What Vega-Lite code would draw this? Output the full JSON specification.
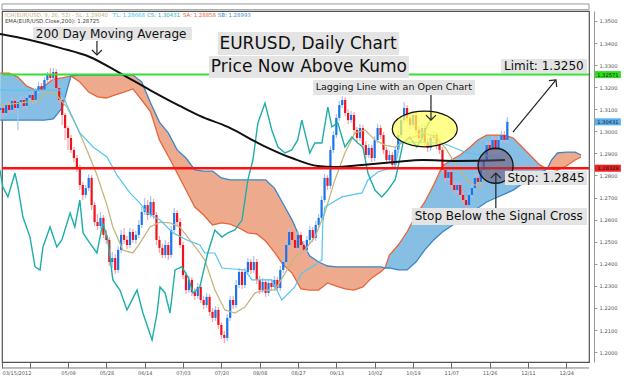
{
"$schema":"https://vega.github.io/schema/vega-lite/v6.json",
"width":587,"height":351,
"autosize":{"type":"none"},
"padding":{"left":2,"top":11,"right":35,"bottom":24},
"background":"#ffffff",
"config":{"font":"DejaVu Sans","view":{"stroke":"#555555","strokeWidth":1.2},
 "axis":{"labelOverlap":false,"labelBound":false,"grid":false,"labelSeparation":0},
 "axisX":{"labelFlush":true,"labelFontSize":5,"labelColor":"#555555","tickSize":6,"tickColor":"#666666","labelPadding":2,"domain":false},
 "axisY":{"labelFontSize":5.2,"labelColor":"#555555","tickSize":3,"tickColor":"#999999","domainColor":"#999999","labelPadding":2}},
"datasets":{
"cd":[
{"d":3,"o":1.3097,"h":1.3124,"l":1.3079,"c":1.3106},
{"d":4,"o":1.3106,"h":1.3119,"l":1.3061,"c":1.3083},
{"d":5,"o":1.3083,"h":1.3133,"l":1.3070,"c":1.3119},
{"d":6,"o":1.3119,"h":1.3138,"l":1.3083,"c":1.3097},
{"d":7,"o":1.3097,"h":1.3156,"l":1.3083,"c":1.3138},
{"d":8,"o":1.3138,"h":1.3151,"l":1.3088,"c":1.3106},
{"d":9,"o":1.3106,"h":1.3147,"l":1.3006,"c":1.3133},
{"d":10,"o":1.3133,"h":1.3160,"l":1.3119,"c":1.3142},
{"d":11,"o":1.3142,"h":1.3156,"l":1.3101,"c":1.3115},
{"d":12,"o":1.3115,"h":1.3165,"l":1.3101,"c":1.3151},
{"d":13,"o":1.3151,"h":1.3178,"l":1.3138,"c":1.3165},
{"d":14,"o":1.3165,"h":1.3178,"l":1.3124,"c":1.3142},
{"d":15,"o":1.3142,"h":1.3196,"l":1.3128,"c":1.3183},
{"d":16,"o":1.3183,"h":1.3224,"l":1.3169,"c":1.3205},
{"d":17,"o":1.3205,"h":1.3219,"l":1.3174,"c":1.3187},
{"d":18,"o":1.3187,"h":1.3246,"l":1.3178,"c":1.3233},
{"d":19,"o":1.3233,"h":1.3269,"l":1.3219,"c":1.3255},
{"d":20,"o":1.3255,"h":1.3287,"l":1.3228,"c":1.3242},
{"d":21,"o":1.3242,"h":1.3287,"l":1.3233,"c":1.3269},
{"d":22,"o":1.3269,"h":1.3282,"l":1.3183,"c":1.3196},
{"d":23,"o":1.3196,"h":1.3205,"l":1.3128,"c":1.3142},
{"d":24,"o":1.3142,"h":1.3151,"l":1.3029,"c":1.3074},
{"d":25,"o":1.3074,"h":1.3083,"l":1.2961,"c":1.3015},
{"d":26,"o":1.3015,"h":1.3024,"l":1.2916,"c":1.2970},
{"d":27,"o":1.2970,"h":1.2983,"l":1.2902,"c":1.2916},
{"d":28,"o":1.2916,"h":1.2929,"l":1.2861,"c":1.2879},
{"d":29,"o":1.2879,"h":1.2893,"l":1.2816,"c":1.2834},
{"d":30,"o":1.2834,"h":1.2848,"l":1.2734,"c":1.2757},
{"d":31,"o":1.2757,"h":1.2771,"l":1.2689,"c":1.2712},
{"d":32,"o":1.2712,"h":1.2757,"l":1.2698,"c":1.2743},
{"d":33,"o":1.2743,"h":1.2807,"l":1.2730,"c":1.2789},
{"d":34,"o":1.2789,"h":1.2802,"l":1.2644,"c":1.2666},
{"d":35,"o":1.2666,"h":1.2680,"l":1.2571,"c":1.2589},
{"d":36,"o":1.2589,"h":1.2626,"l":1.2553,"c":1.2571},
{"d":37,"o":1.2571,"h":1.2635,"l":1.2558,"c":1.2608},
{"d":38,"o":1.2608,"h":1.2621,"l":1.2517,"c":1.2531},
{"d":39,"o":1.2531,"h":1.2553,"l":1.2490,"c":1.2508},
{"d":40,"o":1.2508,"h":1.2521,"l":1.2390,"c":1.2408},
{"d":41,"o":1.2408,"h":1.2453,"l":1.2381,"c":1.2426},
{"d":42,"o":1.2426,"h":1.2444,"l":1.2354,"c":1.2372},
{"d":43,"o":1.2372,"h":1.2481,"l":1.2358,"c":1.2463},
{"d":44,"o":1.2463,"h":1.2553,"l":1.2449,"c":1.2531},
{"d":45,"o":1.2531,"h":1.2562,"l":1.2490,"c":1.2508},
{"d":46,"o":1.2508,"h":1.2526,"l":1.2467,"c":1.2485},
{"d":47,"o":1.2485,"h":1.2562,"l":1.2472,"c":1.2544},
{"d":48,"o":1.2544,"h":1.2558,"l":1.2494,"c":1.2508},
{"d":49,"o":1.2508,"h":1.2549,"l":1.2490,"c":1.2531},
{"d":50,"o":1.2531,"h":1.2598,"l":1.2517,"c":1.2576},
{"d":51,"o":1.2576,"h":1.2657,"l":1.2562,"c":1.2635},
{"d":52,"o":1.2635,"h":1.2698,"l":1.2621,"c":1.2666},
{"d":53,"o":1.2666,"h":1.2689,"l":1.2598,"c":1.2621},
{"d":54,"o":1.2621,"h":1.2707,"l":1.2608,"c":1.2680},
{"d":55,"o":1.2680,"h":1.2694,"l":1.2603,"c":1.2621},
{"d":56,"o":1.2621,"h":1.2635,"l":1.2485,"c":1.2508},
{"d":57,"o":1.2508,"h":1.2526,"l":1.2449,"c":1.2472},
{"d":58,"o":1.2472,"h":1.2490,"l":1.2426,"c":1.2440},
{"d":59,"o":1.2440,"h":1.2508,"l":1.2426,"c":1.2485},
{"d":60,"o":1.2485,"h":1.2499,"l":1.2417,"c":1.2440},
{"d":61,"o":1.2440,"h":1.2571,"l":1.2426,"c":1.2553},
{"d":62,"o":1.2553,"h":1.2653,"l":1.2540,"c":1.2630},
{"d":63,"o":1.2630,"h":1.2644,"l":1.2571,"c":1.2589},
{"d":64,"o":1.2589,"h":1.2608,"l":1.2472,"c":1.2485},
{"d":65,"o":1.2485,"h":1.2499,"l":1.2331,"c":1.2349},
{"d":66,"o":1.2349,"h":1.2363,"l":1.2263,"c":1.2281},
{"d":67,"o":1.2281,"h":1.2345,"l":1.2268,"c":1.2327},
{"d":68,"o":1.2327,"h":1.2340,"l":1.2254,"c":1.2272},
{"d":69,"o":1.2272,"h":1.2290,"l":1.2236,"c":1.2254},
{"d":70,"o":1.2254,"h":1.2313,"l":1.2241,"c":1.2295},
{"d":71,"o":1.2295,"h":1.2309,"l":1.2222,"c":1.2236},
{"d":72,"o":1.2236,"h":1.2254,"l":1.2195,"c":1.2213},
{"d":73,"o":1.2213,"h":1.2268,"l":1.2200,"c":1.2250},
{"d":74,"o":1.2250,"h":1.2263,"l":1.2164,"c":1.2182},
{"d":75,"o":1.2182,"h":1.2200,"l":1.2136,"c":1.2155},
{"d":76,"o":1.2155,"h":1.2209,"l":1.2141,"c":1.2191},
{"d":77,"o":1.2191,"h":1.2204,"l":1.2105,"c":1.2123},
{"d":78,"o":1.2123,"h":1.2136,"l":1.2059,"c":1.2078},
{"d":79,"o":1.2078,"h":1.2096,"l":1.2041,"c":1.2064},
{"d":80,"o":1.2064,"h":1.2173,"l":1.2050,"c":1.2155},
{"d":81,"o":1.2155,"h":1.2254,"l":1.2141,"c":1.2236},
{"d":82,"o":1.2236,"h":1.2254,"l":1.2195,"c":1.2213},
{"d":83,"o":1.2213,"h":1.2327,"l":1.2200,"c":1.2304},
{"d":84,"o":1.2304,"h":1.2381,"l":1.2290,"c":1.2363},
{"d":85,"o":1.2363,"h":1.2376,"l":1.2286,"c":1.2304},
{"d":86,"o":1.2304,"h":1.2381,"l":1.2290,"c":1.2363},
{"d":87,"o":1.2363,"h":1.2426,"l":1.2349,"c":1.2408},
{"d":88,"o":1.2408,"h":1.2422,"l":1.2354,"c":1.2372},
{"d":89,"o":1.2372,"h":1.2435,"l":1.2358,"c":1.2408},
{"d":90,"o":1.2408,"h":1.2422,"l":1.2309,"c":1.2327},
{"d":91,"o":1.2327,"h":1.2345,"l":1.2263,"c":1.2281},
{"d":92,"o":1.2281,"h":1.2336,"l":1.2268,"c":1.2318},
{"d":93,"o":1.2318,"h":1.2331,"l":1.2250,"c":1.2268},
{"d":94,"o":1.2268,"h":1.2331,"l":1.2254,"c":1.2313},
{"d":95,"o":1.2313,"h":1.2331,"l":1.2277,"c":1.2295},
{"d":96,"o":1.2295,"h":1.2345,"l":1.2281,"c":1.2327},
{"d":97,"o":1.2327,"h":1.2340,"l":1.2277,"c":1.2290},
{"d":98,"o":1.2290,"h":1.2390,"l":1.2277,"c":1.2372},
{"d":99,"o":1.2372,"h":1.2426,"l":1.2358,"c":1.2408},
{"d":100,"o":1.2408,"h":1.2508,"l":1.2395,"c":1.2485},
{"d":101,"o":1.2485,"h":1.2562,"l":1.2472,"c":1.2544},
{"d":102,"o":1.2544,"h":1.2558,"l":1.2490,"c":1.2508},
{"d":103,"o":1.2508,"h":1.2526,"l":1.2453,"c":1.2472},
{"d":104,"o":1.2472,"h":1.2549,"l":1.2458,"c":1.2531},
{"d":105,"o":1.2531,"h":1.2544,"l":1.2467,"c":1.2485},
{"d":106,"o":1.2485,"h":1.2503,"l":1.2444,"c":1.2463},
{"d":107,"o":1.2463,"h":1.2526,"l":1.2449,"c":1.2508},
{"d":108,"o":1.2508,"h":1.2571,"l":1.2494,"c":1.2553},
{"d":109,"o":1.2553,"h":1.2567,"l":1.2499,"c":1.2517},
{"d":110,"o":1.2517,"h":1.2594,"l":1.2503,"c":1.2576},
{"d":111,"o":1.2576,"h":1.2626,"l":1.2562,"c":1.2608},
{"d":112,"o":1.2608,"h":1.2707,"l":1.2594,"c":1.2689},
{"d":113,"o":1.2689,"h":1.2807,"l":1.2676,"c":1.2789},
{"d":114,"o":1.2789,"h":1.2802,"l":1.2734,"c":1.2753},
{"d":115,"o":1.2753,"h":1.2934,"l":1.2739,"c":1.2916},
{"d":116,"o":1.2916,"h":1.3002,"l":1.2902,"c":1.2983},
{"d":117,"o":1.2983,"h":1.3079,"l":1.2970,"c":1.3061},
{"d":118,"o":1.3061,"h":1.3138,"l":1.3047,"c":1.3119},
{"d":119,"o":1.3119,"h":1.3160,"l":1.3106,"c":1.3142},
{"d":120,"o":1.3142,"h":1.3156,"l":1.3070,"c":1.3083},
{"d":121,"o":1.3083,"h":1.3101,"l":1.3033,"c":1.3051},
{"d":122,"o":1.3051,"h":1.3092,"l":1.3038,"c":1.3074},
{"d":123,"o":1.3074,"h":1.3088,"l":1.2988,"c":1.3006},
{"d":124,"o":1.3006,"h":1.3020,"l":1.2952,"c":1.2970},
{"d":125,"o":1.2970,"h":1.3033,"l":1.2956,"c":1.3015},
{"d":126,"o":1.3015,"h":1.3029,"l":1.2920,"c":1.2938},
{"d":127,"o":1.2938,"h":1.2956,"l":1.2875,"c":1.2893},
{"d":128,"o":1.2893,"h":1.2943,"l":1.2879,"c":1.2925},
{"d":129,"o":1.2925,"h":1.2938,"l":1.2861,"c":1.2879},
{"d":130,"o":1.2879,"h":1.2979,"l":1.2866,"c":1.2961},
{"d":131,"o":1.2961,"h":1.3033,"l":1.2947,"c":1.3015},
{"d":132,"o":1.3015,"h":1.3029,"l":1.2965,"c":1.2983},
{"d":133,"o":1.2983,"h":1.2997,"l":1.2897,"c":1.2916},
{"d":134,"o":1.2916,"h":1.2929,"l":1.2852,"c":1.2870},
{"d":135,"o":1.2870,"h":1.2911,"l":1.2857,"c":1.2893},
{"d":136,"o":1.2893,"h":1.2906,"l":1.2830,"c":1.2848},
{"d":137,"o":1.2848,"h":1.2934,"l":1.2834,"c":1.2916},
{"d":138,"o":1.2916,"h":1.3002,"l":1.2902,"c":1.2983},
{"d":139,"o":1.2983,"h":1.3070,"l":1.2970,"c":1.3051},
{"d":140,"o":1.3051,"h":1.3133,"l":1.3038,"c":1.3106},
{"d":141,"o":1.3106,"h":1.3119,"l":1.3042,"c":1.3061},
{"d":142,"o":1.3061,"h":1.3079,"l":1.3011,"c":1.3029},
{"d":143,"o":1.3029,"h":1.3092,"l":1.3015,"c":1.3074},
{"d":144,"o":1.3074,"h":1.3088,"l":1.2988,"c":1.3006},
{"d":145,"o":1.3006,"h":1.3024,"l":1.2952,"c":1.2970},
{"d":146,"o":1.2970,"h":1.3033,"l":1.2956,"c":1.3015},
{"d":147,"o":1.3015,"h":1.3029,"l":1.2934,"c":1.2952},
{"d":148,"o":1.2952,"h":1.2970,"l":1.2906,"c":1.2925},
{"d":149,"o":1.2925,"h":1.2988,"l":1.2911,"c":1.2970},
{"d":150,"o":1.2970,"h":1.3002,"l":1.2956,"c":1.2983},
{"d":151,"o":1.2983,"h":1.2997,"l":1.2920,"c":1.2938},
{"d":152,"o":1.2938,"h":1.2956,"l":1.2897,"c":1.2916},
{"d":153,"o":1.2916,"h":1.2929,"l":1.2807,"c":1.2825},
{"d":154,"o":1.2825,"h":1.2843,"l":1.2771,"c":1.2789},
{"d":155,"o":1.2789,"h":1.2834,"l":1.2775,"c":1.2816},
{"d":156,"o":1.2816,"h":1.2830,"l":1.2739,"c":1.2757},
{"d":157,"o":1.2757,"h":1.2775,"l":1.2716,"c":1.2734},
{"d":158,"o":1.2734,"h":1.2775,"l":1.2721,"c":1.2757},
{"d":159,"o":1.2757,"h":1.2771,"l":1.2694,"c":1.2712},
{"d":160,"o":1.2712,"h":1.2730,"l":1.2671,"c":1.2689},
{"d":161,"o":1.2689,"h":1.2707,"l":1.2653,"c":1.2666},
{"d":162,"o":1.2666,"h":1.2730,"l":1.2653,"c":1.2712},
{"d":163,"o":1.2712,"h":1.2762,"l":1.2698,"c":1.2743},
{"d":164,"o":1.2743,"h":1.2807,"l":1.2730,"c":1.2789},
{"d":165,"o":1.2789,"h":1.2807,"l":1.2753,"c":1.2771},
{"d":166,"o":1.2771,"h":1.2843,"l":1.2757,"c":1.2825},
{"d":167,"o":1.2825,"h":1.2888,"l":1.2811,"c":1.2870},
{"d":168,"o":1.2870,"h":1.2956,"l":1.2857,"c":1.2938},
{"d":169,"o":1.2938,"h":1.2956,"l":1.2897,"c":1.2916},
{"d":170,"o":1.2916,"h":1.2979,"l":1.2902,"c":1.2961},
{"d":171,"o":1.2961,"h":1.2974,"l":1.2897,"c":1.2916},
{"d":172,"o":1.2916,"h":1.2979,"l":1.2902,"c":1.2961},
{"d":173,"o":1.2961,"h":1.3002,"l":1.2947,"c":1.2983},
{"d":174,"o":1.2983,"h":1.3002,"l":1.2947,"c":1.2961},
{"d":175,"o":1.2961,"h":1.3065,"l":1.2947,"c":1.3043}
],
"cl":[
{"d":3,"sa":1.3264,"sb":1.3051,"g":1,"k":"up"},
{"d":6,"sa":1.3264,"sb":1.3051,"g":1,"k":"up"},
{"d":9,"sa":1.3246,"sb":1.3051,"g":1,"k":"up"},
{"d":12,"sa":1.3205,"sb":1.3051,"g":1,"k":"up"},
{"d":15,"sa":1.3187,"sb":1.3051,"g":1,"k":"up"},
{"d":18,"sa":1.3205,"sb":1.3051,"g":1,"k":"up"},
{"d":21,"sa":1.3237,"sb":1.3056,"g":1,"k":"up"},
{"d":24,"sa":1.3242,"sb":1.3106,"g":1,"k":"up"},
{"d":27,"sa":1.3251,"sb":1.3251,"g":1,"k":"up"},
{"d":27,"sa":1.3251,"sb":1.3251,"g":2,"k":"down"},
{"d":30,"sa":1.3224,"sb":1.3255,"g":2,"k":"down"},
{"d":33,"sa":1.3178,"sb":1.3255,"g":2,"k":"down"},
{"d":36,"sa":1.3156,"sb":1.3255,"g":2,"k":"down"},
{"d":39,"sa":1.3151,"sb":1.3255,"g":2,"k":"down"},
{"d":42,"sa":1.3165,"sb":1.3255,"g":2,"k":"down"},
{"d":45,"sa":1.3178,"sb":1.3255,"g":2,"k":"down"},
{"d":48,"sa":1.3192,"sb":1.3255,"g":2,"k":"down"},
{"d":51,"sa":1.3142,"sb":1.3224,"g":2,"k":"down"},
{"d":54,"sa":1.3088,"sb":1.3128,"g":2,"k":"down"},
{"d":57,"sa":1.2961,"sb":1.3042,"g":2,"k":"down"},
{"d":60,"sa":1.2888,"sb":1.2993,"g":2,"k":"down"},
{"d":63,"sa":1.2811,"sb":1.2916,"g":2,"k":"down"},
{"d":66,"sa":1.2734,"sb":1.2879,"g":2,"k":"down"},
{"d":69,"sa":1.2657,"sb":1.2825,"g":2,"k":"down"},
{"d":72,"sa":1.2621,"sb":1.2820,"g":2,"k":"down"},
{"d":75,"sa":1.2576,"sb":1.2820,"g":2,"k":"down"},
{"d":78,"sa":1.2585,"sb":1.2789,"g":2,"k":"down"},
{"d":81,"sa":1.2580,"sb":1.2780,"g":2,"k":"down"},
{"d":84,"sa":1.2562,"sb":1.2780,"g":2,"k":"down"},
{"d":87,"sa":1.2540,"sb":1.2780,"g":2,"k":"down"},
{"d":90,"sa":1.2535,"sb":1.2780,"g":2,"k":"down"},
{"d":93,"sa":1.2503,"sb":1.2780,"g":2,"k":"down"},
{"d":96,"sa":1.2453,"sb":1.2743,"g":2,"k":"down"},
{"d":99,"sa":1.2395,"sb":1.2671,"g":2,"k":"down"},
{"d":102,"sa":1.2358,"sb":1.2598,"g":2,"k":"down"},
{"d":105,"sa":1.2286,"sb":1.2508,"g":2,"k":"down"},
{"d":108,"sa":1.2281,"sb":1.2435,"g":2,"k":"down"},
{"d":111,"sa":1.2281,"sb":1.2408,"g":2,"k":"down"},
{"d":114,"sa":1.2313,"sb":1.2390,"g":2,"k":"down"},
{"d":117,"sa":1.2299,"sb":1.2386,"g":2,"k":"down"},
{"d":120,"sa":1.2286,"sb":1.2386,"g":2,"k":"down"},
{"d":123,"sa":1.2281,"sb":1.2386,"g":2,"k":"down"},
{"d":126,"sa":1.2295,"sb":1.2386,"g":2,"k":"down"},
{"d":129,"sa":1.2336,"sb":1.2386,"g":2,"k":"down"},
{"d":132,"sa":1.2363,"sb":1.2386,"g":2,"k":"down"},
{"d":133.5,"sa":1.2381,"sb":1.2381,"g":2,"k":"down"},
{"d":133.5,"sa":1.2381,"sb":1.2381,"g":3,"k":"up"},
{"d":135,"sa":1.2440,"sb":1.2381,"g":3,"k":"up"},
{"d":138,"sa":1.2485,"sb":1.2372,"g":3,"k":"up"},
{"d":141,"sa":1.2544,"sb":1.2372,"g":3,"k":"up"},
{"d":144,"sa":1.2621,"sb":1.2408,"g":3,"k":"up"},
{"d":147,"sa":1.2680,"sb":1.2463,"g":3,"k":"up"},
{"d":150,"sa":1.2757,"sb":1.2508,"g":3,"k":"up"},
{"d":153,"sa":1.2843,"sb":1.2544,"g":3,"k":"up"},
{"d":156,"sa":1.2870,"sb":1.2571,"g":3,"k":"up"},
{"d":159,"sa":1.2893,"sb":1.2598,"g":3,"k":"up"},
{"d":162,"sa":1.2925,"sb":1.2626,"g":3,"k":"up"},
{"d":165,"sa":1.2961,"sb":1.2653,"g":3,"k":"up"},
{"d":168,"sa":1.2983,"sb":1.2680,"g":3,"k":"up"},
{"d":171,"sa":1.2983,"sb":1.2698,"g":3,"k":"up"},
{"d":174,"sa":1.2983,"sb":1.2716,"g":3,"k":"up"},
{"d":177,"sa":1.2970,"sb":1.2734,"g":3,"k":"up"},
{"d":180,"sa":1.2929,"sb":1.2762,"g":3,"k":"up"},
{"d":183,"sa":1.2888,"sb":1.2789,"g":3,"k":"up"},
{"d":186,"sa":1.2848,"sb":1.2811,"g":3,"k":"up"},
{"d":188.5,"sa":1.2829,"sb":1.2829,"g":3,"k":"up"},
{"d":188.5,"sa":1.2829,"sb":1.2829,"g":4,"k":"down"},
{"d":190,"sa":1.2829,"sb":1.2870,"g":4,"k":"down"},
{"d":192,"sa":1.2825,"sb":1.2902,"g":4,"k":"down"},
{"d":195,"sa":1.2843,"sb":1.2906,"g":4,"k":"down"},
{"d":198,"sa":1.2870,"sb":1.2906,"g":4,"k":"down"},
{"d":200,"sa":1.2884,"sb":1.2893,"g":4,"k":"down"}
],
"ma":[{"d":2.9,"v":1.3441},{"d":13.1,"v":1.3414},{"d":23.3,"v":1.3378},{"d":33.4,"v":1.3337},{"d":43.6,"v":1.3264},{"d":53.8,"v":1.3187},{"d":63.9,"v":1.3115},{"d":70.7,"v":1.3070},{"d":80.2,"v":1.3020},{"d":91.8,"v":1.2938},{"d":101.9,"v":1.2879},{"d":110.7,"v":1.2843},{"d":116.5,"v":1.2839},{"d":125.7,"v":1.2848},{"d":136.9,"v":1.2861},{"d":146.3,"v":1.2870},{"d":157.9,"v":1.2866},{"d":174.2,"v":1.2870}],
"tk":[{"d":2.9,"v":1.3119},{"d":9.7,"v":1.3128},{"d":16.5,"v":1.3142},{"d":18.2,"v":1.3174},{"d":21.6,"v":1.3178},{"d":22.6,"v":1.3156},{"d":25.6,"v":1.3110},{"d":29.0,"v":1.3020},{"d":32.4,"v":1.2915},{"d":35.8,"v":1.2802},{"d":39.2,"v":1.2666},{"d":41.2,"v":1.2567},{"d":44.6,"v":1.2462},{"d":48.0,"v":1.2449},{"d":50.4,"v":1.2494},{"d":53.8,"v":1.2567},{"d":57.2,"v":1.2589},{"d":60.6,"v":1.2585},{"d":63.9,"v":1.2567},{"d":67.3,"v":1.2508},{"d":70.7,"v":1.2449},{"d":72.4,"v":1.2417},{"d":75.8,"v":1.2281},{"d":79.2,"v":1.2191},{"d":82.6,"v":1.2177},{"d":86.0,"v":1.2204},{"d":89.4,"v":1.2268},{"d":92.8,"v":1.2281},{"d":96.2,"v":1.2281},{"d":99.6,"v":1.2358},{"d":102.9,"v":1.2431},{"d":106.3,"v":1.2462},{"d":109.7,"v":1.2521},{"d":113.1,"v":1.2630},{"d":116.5,"v":1.2780},{"d":119.9,"v":1.2902},{"d":123.3,"v":1.2993},{"d":126.7,"v":1.3006},{"d":130.1,"v":1.2961},{"d":133.5,"v":1.2938},{"d":136.9,"v":1.2929},{"d":140.9,"v":1.2961},{"d":146.3,"v":1.2993},{"d":151.1,"v":1.2974},{"d":154.5,"v":1.2915},{"d":157.9,"v":1.2839},{"d":162.3,"v":1.2766},{"d":165.7,"v":1.2748},{"d":169.1,"v":1.2811},{"d":172.5,"v":1.2857},{"d":174.8,"v":1.2884}],
"kj":[{"d":2.9,"v":1.3187},{"d":23.3,"v":1.3187},{"d":24.3,"v":1.3165},{"d":25.6,"v":1.3119},{"d":30.0,"v":1.2993},{"d":34.5,"v":1.2929},{"d":39.2,"v":1.2884},{"d":42.6,"v":1.2802},{"d":47.0,"v":1.2721},{"d":50.4,"v":1.2675},{"d":52.8,"v":1.2630},{"d":57.2,"v":1.2598},{"d":61.6,"v":1.2540},{"d":66.3,"v":1.2508},{"d":70.7,"v":1.2485},{"d":72.4,"v":1.2449},{"d":75.8,"v":1.2449},{"d":78.2,"v":1.2381},{"d":86.0,"v":1.2372},{"d":88.4,"v":1.2327},{"d":95.1,"v":1.2327},{"d":98.5,"v":1.2236},{"d":102.9,"v":1.2295},{"d":105.3,"v":1.2358},{"d":108.7,"v":1.2386},{"d":112.1,"v":1.2417},{"d":112.4,"v":1.2585},{"d":113.1,"v":1.2657},{"d":118.9,"v":1.2703},{"d":125.7,"v":1.2721},{"d":127.7,"v":1.2780},{"d":131.1,"v":1.2816},{"d":136.9,"v":1.2839},{"d":138.6,"v":1.2952},{"d":153.1,"v":1.2947},{"d":161.3,"v":1.2902},{"d":171.4,"v":1.2884},{"d":174.8,"v":1.2861}],
"ck":[{"d":2.9,"v":1.2825},{"d":3.9,"v":1.2748},{"d":5.6,"v":1.2703},{"d":8.0,"v":1.2811},{"d":9.0,"v":1.2748},{"d":10.7,"v":1.2612},{"d":13.1,"v":1.2521},{"d":14.8,"v":1.2386},{"d":16.5,"v":1.2372},{"d":17.5,"v":1.2476},{"d":19.9,"v":1.2567},{"d":22.2,"v":1.2476},{"d":23.9,"v":1.2508},{"d":26.7,"v":1.2630},{"d":28.3,"v":1.2567},{"d":30.0,"v":1.2689},{"d":31.1,"v":1.2540},{"d":33.4,"v":1.2494},{"d":35.8,"v":1.2449},{"d":37.8,"v":1.2585},{"d":39.5,"v":1.2508},{"d":41.2,"v":1.2327},{"d":43.6,"v":1.2281},{"d":46.0,"v":1.2191},{"d":49.4,"v":1.2281},{"d":51.4,"v":1.2177},{"d":54.5,"v":1.2055},{"d":56.2,"v":1.2177},{"d":57.2,"v":1.2295},{"d":58.9,"v":1.2268},{"d":60.6,"v":1.2177},{"d":62.3,"v":1.2372},{"d":64.6,"v":1.2386},{"d":66.7,"v":1.2340},{"d":68.4,"v":1.2268},{"d":70.7,"v":1.2295},{"d":73.4,"v":1.2449},{"d":75.8,"v":1.2553},{"d":78.2,"v":1.2521},{"d":80.2,"v":1.2540},{"d":82.6,"v":1.2553},{"d":85.0,"v":1.2598},{"d":87.0,"v":1.2780},{"d":88.7,"v":1.2870},{"d":90.4,"v":1.3038},{"d":92.8,"v":1.3128},{"d":95.1,"v":1.3006},{"d":97.2,"v":1.2929},{"d":99.6,"v":1.2902},{"d":101.9,"v":1.2916},{"d":103.9,"v":1.2961},{"d":105.3,"v":1.3051},{"d":108.0,"v":1.2902},{"d":109.7,"v":1.2947},{"d":112.1,"v":1.2947},{"d":114.1,"v":1.3110},{"d":115.5,"v":1.3020},{"d":117.5,"v":1.3038},{"d":119.9,"v":1.2929},{"d":122.3,"v":1.2974},{"d":124.3,"v":1.2947},{"d":126.0,"v":1.2929},{"d":127.7,"v":1.2811},{"d":130.1,"v":1.2734},{"d":132.4,"v":1.2703},{"d":134.5,"v":1.2734},{"d":136.9,"v":1.2780},{"d":137.5,"v":1.2811},{"d":139.6,"v":1.2947},{"d":141.9,"v":1.2974},{"d":144.3,"v":1.2929},{"d":146.3,"v":1.2974},{"d":148.7,"v":1.3051},{"d":149.8,"v":1.3065}],
"ar":[{"a":35.8,"b":35.8,"p":1.3409,"q":1.3346},{"a":149.1,"b":149.1,"p":1.3165,"q":1.3051},{"a":176.9,"b":191.5,"p":1.2997,"q":1.3233},{"a":171.1,"b":171.1,"p":1.2653,"q":1.2811}],
"bx":[{"a":14.1,"b":68.0,"t":1.3473,"u":1.3414},{"a":76.8,"b":138.2,"t":1.3450,"u":1.3346},{"a":73.8,"b":141.6,"t":1.3341,"u":1.3242},{"a":109.1,"b":164.0,"t":1.3233,"u":1.3165},{"a":172.8,"b":202.0,"t":1.3328,"u":1.3264},{"a":174.2,"b":202.0,"t":1.2820,"u":1.2757},{"a":142.6,"b":202.0,"t":1.2653,"u":1.2576}],
"hd":[{"d":4.6,"p":1.3529,"t":"ICH(EUR/USD, 9, 26, 52) - SL: 1.29040","s":"ich"},{"d":41.2,"p":1.3529,"t":"TL: 1.28668","s":"tl"},{"d":52.8,"p":1.3529,"t":"CS: 1.30431","s":"cs"},{"d":65.0,"p":1.3529,"t":"SA: 1.28858","s":"sa"},{"d":76.8,"p":1.3529,"t":"SB: 1.28993","s":"sb"},{"d":4.6,"p":1.3502,"t":"EMA(EUR/USD.Close,200): 1.28725","s":"ema"}],
"pb":[{"v":1.3257,"t":"1.32571","s":"g"},{"v":1.3043,"t":"1.30431","s":"b"},{"v":1.2833,"t":"1.28329","s":"r"}]
},
"layer":[
{"data":{"values":[{"a":3.6,"b":202.7,"t":1.3577,"u":1.3551}]},"mark":{"type":"rect","fill":"#ffffff","stroke":"#999999","strokeWidth":1},
 "encoding":{"x":{"field":"a","type":"quantitative","title":null},"x2":{"field":"b"},"y":{"field":"t","type":"quantitative","title":null},"y2":{"field":"u"}}},
{"data":{"name":"cl"},"mark":{"type":"area","orient":"vertical"},
 "encoding":{"x":{"field":"d","type":"quantitative","title":null,"scale":{"domain":[3.6,202.7],"nice":false,"zero":false,"padding":0}},
  "y":{"field":"sa","type":"quantitative","title":null,"scale":{"domain":[1.19551,1.35452],"nice":false,"zero":false,"padding":0}},"y2":{"field":"sb"},
  "fill":{"field":"k","type":"nominal","scale":{"domain":["up","down"],"range":["#86bfe3","#eeaa8c"]},"legend":null},
  "detail":{"field":"g","type":"nominal"}}},
{"data":{"name":"cl"},"mark":{"type":"line","color":"#e8643a","strokeWidth":1.3},
 "encoding":{"x":{"field":"d","type":"quantitative","title":null},"y":{"field":"sa","type":"quantitative","title":null}}},
{"data":{"name":"cl"},"mark":{"type":"line","color":"#3a86c6","strokeWidth":1.3},
 "encoding":{"x":{"field":"d","type":"quantitative","title":null},"y":{"field":"sb","type":"quantitative","title":null}}},
{"data":{"name":"cd"},"mark":{"type":"rule","strokeWidth":1.2},
 "encoding":{"x":{"field":"d","type":"quantitative","title":null},"y":{"field":"l","type":"quantitative","title":null},"y2":{"field":"h"},
  "color":{"condition":{"test":"datum.c >= datum.o","value":"#9cc8f4"},"value":"#f6a2a8"}}},
{"data":{"name":"cd"},"mark":{"type":"bar","width":2.2},
 "encoding":{"x":{"field":"d","type":"quantitative","title":null,"scale":{"domain":[3.6,202.7],"nice":false,"zero":false,"padding":0},
   "axis":{"values":[3.6,13,26,39,52,65,78,91,104,117,130,143,156,169,182,195],"tickCount":100,"labelExpr":"['03/15/2012','','05/09','05/28','06/14','07/03','07/20','08/08','08/27','09/13','10/02','10/19','11/07','11/26','12/11','12/24'][round(datum.value/13)]","labelFlush":true,"labelOverlap":false,"orient":"bottom"}},
  "y":{"field":"o","type":"quantitative","title":null,"scale":{"domain":[1.19551,1.35452],"nice":false,"zero":false,"padding":0},
   "axis":{"orient":"right","values":[1.2,1.21,1.22,1.23,1.24,1.25,1.26,1.27,1.28,1.29,1.3,1.31,1.32,1.33,1.34,1.35],"tickCount":100,"format":".4f","offset":5,"labelOverlap":false}},
  "y2":{"field":"c"},
  "color":{"condition":{"test":"datum.c >= datum.o","value":"#1b74ea"},"value":"#f0121c"}}},
{"data":{"name":"tk"},"mark":{"type":"line","color":"#c6b67c","strokeWidth":1.3},
 "encoding":{"x":{"field":"d","type":"quantitative","title":null},"y":{"field":"v","type":"quantitative","title":null}}},
{"data":{"name":"kj"},"mark":{"type":"line","color":"#55c5f2","strokeWidth":1.2},
 "encoding":{"x":{"field":"d","type":"quantitative","title":null},"y":{"field":"v","type":"quantitative","title":null}}},
{"data":{"name":"ck"},"mark":{"type":"line","color":"#1eaea8","strokeWidth":1.4},
 "encoding":{"x":{"field":"d","type":"quantitative","title":null},"y":{"field":"v","type":"quantitative","title":null}}},
{"data":{"name":"ma"},"mark":{"type":"line","color":"#111111","strokeWidth":2,"interpolate":"monotone"},
 "encoding":{"x":{"field":"d","type":"quantitative","title":null},"y":{"field":"v","type":"quantitative","title":null}}},
{"data":{"values":[{"v":1.3257}]},"mark":{"type":"rule","color":"#33e033","strokeWidth":2},
 "encoding":{"y":{"field":"v","type":"quantitative","title":null}}},
{"data":{"values":[{"v":1.2833}]},"mark":{"type":"rule","color":"#ff1010","strokeWidth":2.5},
 "encoding":{"y":{"field":"v","type":"quantitative","title":null}}},
{"data":{"values":[{"v":1.1928}]},"mark":{"type":"rule","color":"#777777","strokeWidth":1},
 "encoding":{"y":{"field":"v","type":"quantitative","title":null}}},
{"data":{"values":[{"d":147.0,"p":1.3011}]},"mark":{"type":"point","shape":"M-1,0A1,0.55,0,1,1,1,0A1,0.55,0,1,1,-1,0Z","size":4225,"filled":true,"fill":"#ffff5e","fillOpacity":0.72,"stroke":"#111111","strokeWidth":1.2,"opacity":1},
 "encoding":{"x":{"field":"d","type":"quantitative","title":null},"y":{"field":"p","type":"quantitative","title":null}}},
{"data":{"values":[{"d":171.0,"p":1.2844}]},"mark":{"type":"point","shape":"circle","size":1225,"filled":true,"fill":"#6a4a6a","fillOpacity":0.5,"stroke":"#1a1a1a","strokeWidth":1.4,"opacity":1},
 "encoding":{"x":{"field":"d","type":"quantitative","title":null},"y":{"field":"p","type":"quantitative","title":null}}},
{"data":{"name":"ar"},"mark":{"type":"rule","color":"#222222","strokeWidth":1.2},
 "encoding":{"x":{"field":"a","type":"quantitative","title":null},"x2":{"field":"b"},"y":{"field":"p","type":"quantitative","title":null},"y2":{"field":"q"}}},
{"data":{"values":[{"d":35.8,"p":1.3346},{"d":149.1,"p":1.3051}]},"mark":{"type":"point","shape":"M-1,-1L0,0L1,-1","size":100,"filled":false,"stroke":"#222222","strokeWidth":1.2,"opacity":1},
 "encoding":{"x":{"field":"d","type":"quantitative","title":null},"y":{"field":"p","type":"quantitative","title":null}}},
{"data":{"values":[{"d":171.1,"p":1.2811}]},"mark":{"type":"point","shape":"M-1,-1L0,0L1,-1","size":100,"angle":180,"filled":false,"stroke":"#222222","strokeWidth":1.2,"opacity":1},
 "encoding":{"x":{"field":"d","type":"quantitative","title":null},"y":{"field":"p","type":"quantitative","title":null}}},
{"data":{"values":[{"d":191.5,"p":1.3233}]},"mark":{"type":"point","shape":"M-1,-1L0,0L1,-1","size":100,"angle":219,"filled":false,"stroke":"#222222","strokeWidth":1.2,"opacity":1},
 "encoding":{"x":{"field":"d","type":"quantitative","title":null},"y":{"field":"p","type":"quantitative","title":null}}},
{"data":{"name":"bx"},"mark":{"type":"rect","fill":"#e4e4e4"},
 "encoding":{"x":{"field":"a","type":"quantitative","title":null},"x2":{"field":"b"},"y":{"field":"t","type":"quantitative","title":null},"y2":{"field":"u"}}},
{"data":{"values":[{"d":107.4,"p":1.3396,"t":"EURUSD, Daily Chart"},{"d":107.7,"p":1.3292,"t":"Price Now Above Kumo"}]},"mark":{"type":"text","fontSize":17,"color":"#111111","align":"center","baseline":"middle"},
 "encoding":{"x":{"field":"d","type":"quantitative","title":null},"y":{"field":"p","type":"quantitative","title":null},"text":{"field":"t"}}},
{"data":{"values":[{"d":40.6,"p":1.3441,"t":"200 Day Moving Average"},{"d":187.4,"p":1.3296,"t":"Limit: 1.3250"},{"d":188.1,"p":1.2789,"t":"Stop: 1.2845"},{"d":172.1,"p":1.2617,"t":"Stop Below the Signal Cross"}]},"mark":{"type":"text","fontSize":12,"color":"#111111","align":"center","baseline":"middle"},
 "encoding":{"x":{"field":"d","type":"quantitative","title":null},"y":{"field":"p","type":"quantitative","title":null},"text":{"field":"t"}}},
{"data":{"values":[{"d":136.5,"p":1.3201,"t":"Lagging Line with an Open Chart"}]},"mark":{"type":"text","fontSize":9.5,"color":"#111111","align":"center","baseline":"middle"},
 "encoding":{"x":{"field":"d","type":"quantitative","title":null},"y":{"field":"p","type":"quantitative","title":null},"text":{"field":"t"}}},
{"data":{"name":"hd"},"mark":{"type":"text","fontSize":5.4,"align":"left","baseline":"middle"},
 "encoding":{"x":{"field":"d","type":"quantitative","title":null},"y":{"field":"p","type":"quantitative","title":null},"text":{"field":"t"},
  "color":{"field":"s","type":"nominal","scale":{"domain":["ich","tl","cs","sa","sb","ema","g","b","r"],"range":["#c4b47a","#3dbdee","#1eaea8","#ef5b3b","#3b8ed6","#444444","#2edc22","#5aaef0","#ee2020"]},"legend":null}}},
{"data":{"name":"pb"},"mark":{"type":"point","shape":"M-1,-0.27L1,-0.27L1,0.27L-1,0.27Z","size":676,"filled":true,"opacity":1},
 "encoding":{"x":{"datum":209.1,"type":"quantitative","title":null},"y":{"field":"v","type":"quantitative","title":null},
  "color":{"field":"s","type":"nominal","scale":{"domain":["ich","tl","cs","sa","sb","ema","g","b","r"],"range":["#c4b47a","#3dbdee","#1eaea8","#ef5b3b","#3b8ed6","#444444","#2edc22","#5aaef0","#ee2020"]},"legend":null}}},
{"data":{"name":"pb"},"mark":{"type":"text","fontSize":5.2,"color":"#1a1a1a","align":"center","baseline":"middle"},
 "encoding":{"x":{"datum":209.1,"type":"quantitative","title":null},"y":{"field":"v","type":"quantitative","title":null},"text":{"field":"t"}}}
]
}
